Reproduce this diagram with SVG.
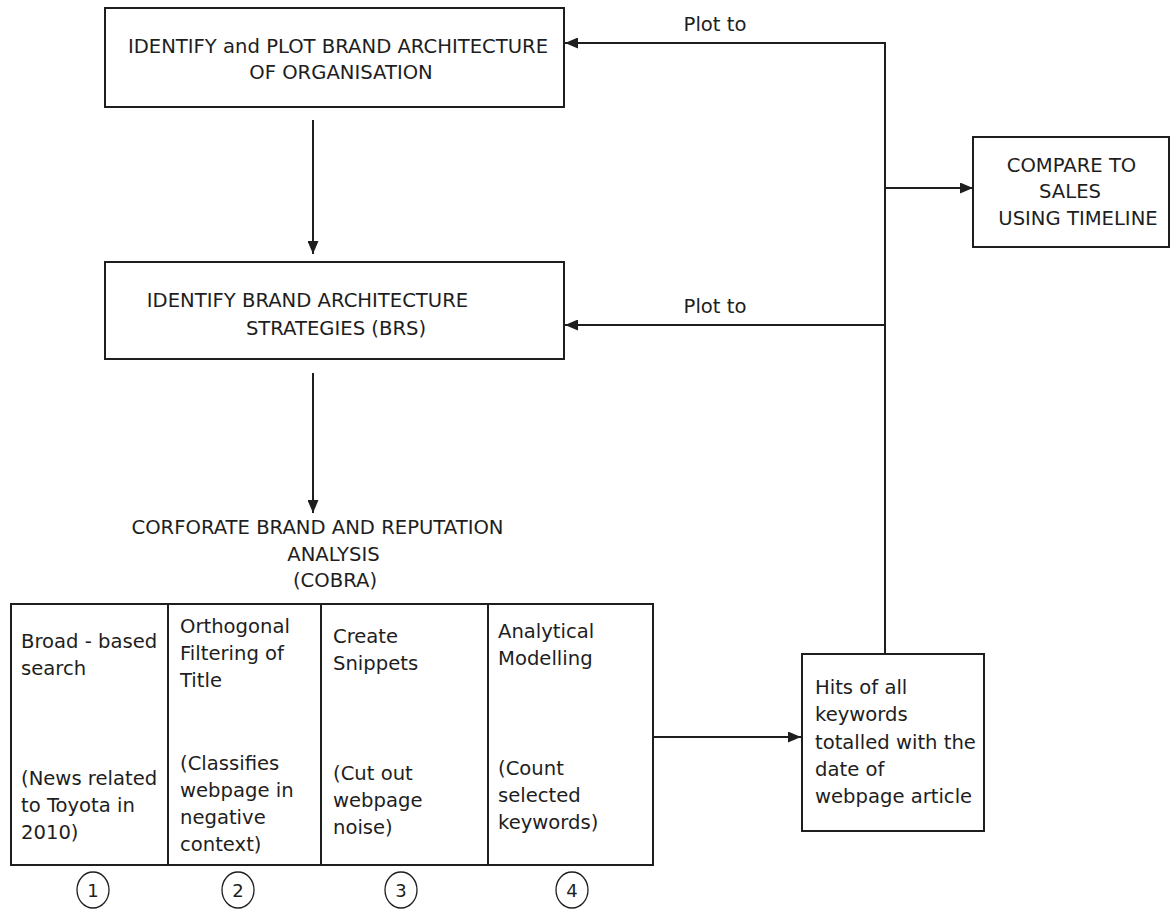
<svg xmlns="http://www.w3.org/2000/svg" width="1171" height="910" viewBox="0 0 1171 910">
  <style>
    text { font-family: "DejaVu Sans", Verdana, sans-serif; font-size: 19.6px; fill: #1e1e1e; }
    .mid { text-anchor: middle; }
    .box { fill: none; stroke: #1e1e1e; stroke-width: 2; }
    .wire { fill: none; stroke: #1e1e1e; stroke-width: 2; }
    .num { fill: none; stroke: #1e1e1e; stroke-width: 1.3; }
    .small { font-size: 18px; }
  </style>
  <defs>
    <marker id="arrow" markerWidth="13" markerHeight="11" refX="13" refY="5.5" orient="auto" markerUnits="userSpaceOnUse">
      <path d="M0,0 L13,5.5 L0,11 z" fill="#1e1e1e"/>
    </marker>
  </defs>

  <rect width="1171" height="910" fill="#ffffff"/>

  <!-- connectors -->
  <g id="connectors">
    <path class="wire" d="M313,120 V254" marker-end="url(#arrow)"/>
    <path class="wire" d="M313,373 V513" marker-end="url(#arrow)"/>
    <path class="wire" d="M885,654 V43 H565" marker-end="url(#arrow)"/>
    <path class="wire" d="M885,325 H565" marker-end="url(#arrow)"/>
    <path class="wire" d="M885,188 H973" marker-end="url(#arrow)"/>
    <path class="wire" d="M653,737 H801" marker-end="url(#arrow)"/>
    <text class="mid" x="715" y="31">Plot to</text>
    <text class="mid" x="715" y="313">Plot to</text>
  </g>

  <!-- top box -->
  <g id="brand-architecture">
    <rect class="box" x="105" y="8" width="459" height="99"/>
    <text class="mid" x="338" y="53">IDENTIFY and PLOT BRAND ARCHITECTURE</text>
    <text class="mid" x="341" y="79">OF ORGANISATION</text>
  </g>

  <!-- strategies box -->
  <g id="brand-strategies">
    <rect class="box" x="105" y="262" width="459" height="97"/>
    <text class="mid" x="307.5" y="307">IDENTIFY BRAND ARCHITECTURE</text>
    <text class="mid" x="336" y="335">STRATEGIES (BRS)</text>
  </g>

  <!-- sales comparison box -->
  <g id="compare-sales">
    <rect class="box" x="973" y="137" width="196" height="110"/>
    <text class="mid" x="1071.5" y="172">COMPARE TO</text>
    <text class="mid" x="1070" y="198">SALES</text>
    <text class="mid" x="1078" y="225">USING TIMELINE</text>
  </g>

  <!-- COBRA heading -->
  <g id="cobra-title">
    <text class="mid" x="317.5" y="534">CORFORATE BRAND AND REPUTATION</text>
    <text class="mid" x="333.5" y="561">ANALYSIS</text>
    <text class="mid" x="335" y="587">(COBRA)</text>
  </g>

  <!-- COBRA process table -->
  <g id="cobra-table">
    <rect class="box" x="11" y="604" width="642" height="261"/>
    <path class="box" d="M168,604 V865 M321,604 V865 M488,604 V865"/>
  </g>

  <g id="step-1">
    <text x="21" y="648">Broad - based</text>
    <text x="21" y="675">search</text>
    <text x="21" y="785">(News related</text>
    <text x="21" y="812">to Toyota in</text>
    <text x="21" y="839">2010)</text>
  </g>

  <g id="step-2">
    <text x="180" y="633">Orthogonal</text>
    <text x="180" y="660">Filtering of</text>
    <text x="180" y="687">Title</text>
    <text x="180" y="770">(Classifies</text>
    <text x="180" y="797">webpage in</text>
    <text x="180" y="824">negative</text>
    <text x="180" y="851">context)</text>
  </g>

  <g id="step-3">
    <text x="333" y="643">Create</text>
    <text x="333" y="670">Snippets</text>
    <text x="333" y="780">(Cut out</text>
    <text x="333" y="807">webpage</text>
    <text x="333" y="834">noise)</text>
  </g>

  <g id="step-4">
    <text x="498" y="638">Analytical</text>
    <text x="498" y="665">Modelling</text>
    <text x="498" y="775">(Count</text>
    <text x="498" y="802">selected</text>
    <text x="498" y="829">keywords)</text>
  </g>

  <!-- step numbers -->
  <g id="step-numbers">
    <ellipse class="num" cx="93" cy="890" rx="16" ry="18"/>
    <text class="mid small" x="93" y="897">1</text>
    <ellipse class="num" cx="238" cy="890" rx="16" ry="18"/>
    <text class="mid small" x="238" y="897">2</text>
    <ellipse class="num" cx="401" cy="890" rx="16" ry="18"/>
    <text class="mid small" x="401" y="897">3</text>
    <ellipse class="num" cx="572" cy="890" rx="16" ry="18"/>
    <text class="mid small" x="572" y="897">4</text>
  </g>

  <!-- keyword hits box -->
  <g id="keyword-hits">
    <rect class="box" x="802" y="654" width="182" height="177"/>
    <text x="815" y="694">Hits of all</text>
    <text x="815" y="721">keywords</text>
    <text x="815" y="749">totalled with the</text>
    <text x="815" y="776">date of</text>
    <text x="815" y="803">webpage article</text>
  </g>
</svg>
